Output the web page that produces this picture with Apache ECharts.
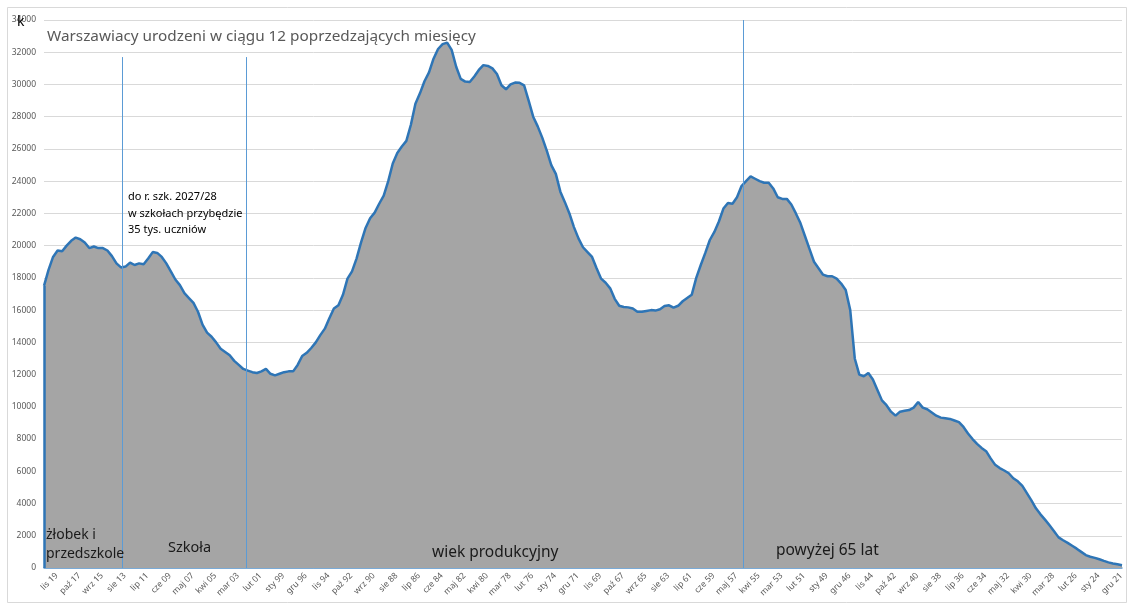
<!DOCTYPE html>
<html><head><meta charset="utf-8">
<script src="https://cdn.jsdelivr.net/npm/echarts@6/dist/echarts.min.js"></script>
<style>html,body{margin:0;padding:0;background:#fff}#c{width:1134px;height:610px}</style>
</head><body><div id="c"></div>
<script>
// Month abbreviations (Polish)
const monthNames = ['sty','lut','mar','kwi','maj','cze','lip','sie','wrz','paź','lis','gru'];
// Start: listopad 2019, step back 5 months per category
const startYear = 2019, startMonth = 10, stepMonths = 5, nCats = 239;
const categories = [];
for (let i = 0; i < nCats; i++) {
  const t = startYear * 12 + startMonth - i * stepMonths;
  const y = Math.floor(t / 12), m = t % 12;
  categories.push(monthNames[m] + ' ' + String(y % 100).padStart(2, '0'));
}
// Births in the preceding 12 months
const births = [
  17500, 18500, 19300, 19700, 19650, 20000, 20300, 20500, 20400, 20200,
  19850, 19950, 19850, 19850, 19700, 19350, 18900, 18650, 18700, 18950,
  18800, 18900, 18850, 19200, 19600, 19550, 19300, 18900, 18400, 17900,
  17550, 17050, 16750, 16450, 15900, 15100, 14600, 14350, 14000, 13600,
  13400, 13200, 12850, 12600, 12350, 12250, 12150, 12100, 12200, 12350,
  12050, 11950, 12050, 12150, 12200, 12200, 12600, 13150, 13350, 13650,
  14000, 14450, 14850, 15500, 16100, 16300, 16950, 17950, 18400, 19200,
  20200, 21100, 21700, 22050, 22600, 23100, 24000, 25100, 25750, 26150,
  26500, 27500, 28800, 29450, 30200, 30750, 31600, 32200, 32500, 32600,
  32150, 31100, 30350, 30180, 30150, 30500, 30900, 31200, 31150, 31000,
  30650, 29950, 29700, 30000, 30120, 30100, 29950, 29000, 28000, 27400,
  26700, 25900, 25000, 24450, 23350, 22700, 22000, 21150, 20450, 19900,
  19600, 19300, 18600, 17950, 17700, 17350, 16700, 16270, 16190, 16170,
  16100, 15900, 15900, 15950, 16000, 15970, 16050, 16250, 16300, 16150,
  16270, 16550, 16750, 16950, 18000, 18800, 19550, 20350, 20850, 21500,
  22300, 22650, 22600, 23000, 23700, 24000, 24300, 24150, 24000, 23900,
  23900, 23550, 23000, 22900, 22900, 22550, 22000, 21400, 20600, 19800,
  19000, 18600, 18200, 18100, 18100, 17950, 17650, 17250, 16000, 13000,
  12000, 11900, 12100, 11700, 11050, 10400, 10100, 9700, 9450, 9700,
  9750, 9800, 9950, 10300, 9950, 9850, 9650, 9450, 9330, 9290,
  9250, 9150, 9050, 8750, 8350, 8000, 7700, 7450, 7250, 6800,
  6400, 6200, 6050, 5880, 5570, 5380, 5100, 4650, 4200, 3700,
  3330, 3000, 2650, 2280, 1900, 1720, 1560, 1380, 1200, 1000,
  800, 700, 630, 540, 440, 350, 280, 230, 170
];
// Vertical divider positions (category index, fractional) and their top values
const dividers = [
  {at: 17.33, top: 31700},
  {at: 44.71, top: 31700},
  {at: 154.44, top: 34000}
];
const yMin = 0, yMax = 34000, yStep = 2000;
const FONT = 'Noto Sans';

const chart = echarts.init(document.getElementById('c'), null, {renderer: 'canvas'});
chart.setOption({
  animation: false,
  backgroundColor: '#fff',
  grid: {left: 44, right: 12, top: 20, bottom: 42, containLabel: false},
  xAxis: [{
    type: 'category', data: categories, boundaryGap: false,
    axisLine: {lineStyle: {color: '#5b9bd5', width: 1.5}},
    axisTick: {show: false},
    axisLabel: {interval: 4, rotate: 45, fontSize: 8.5, color: '#595959', fontFamily: FONT, margin: 19, padding: [0, -18, 0, 0]}
  }, {
    type: 'value', min: 0, max: nCats - 1, show: false
  }],
  yAxis: {
    type: 'value', min: yMin, max: yMax, interval: yStep,
    axisLine: {show: false}, axisTick: {show: false},
    axisLabel: {fontSize: 8.5, color: '#595959', fontFamily: FONT, margin: 8, formatter: v => String(v)},
    splitLine: {lineStyle: {color: '#d9d9d9', width: 1}}
  },
  series: [{
    type: 'line', data: births, symbol: 'none', smooth: false, clip: false,
    lineStyle: {color: '#2e75b6', width: 2.5},
    areaStyle: {color: '#a5a5a5', opacity: 1},
    markLine: {
      silent: true, symbol: 'none', label: {show: false},
      lineStyle: {color: '#2e75b6', width: 2.5, type: 'solid', opacity: 1},
      data: [[{coord: [0, 0]}, {coord: [0, births[0]]}]]
    }
  }, {
    type: 'line', xAxisIndex: 1, data: [], symbol: 'none', z: 5,
    markLine: {
      silent: true, symbol: 'none', label: {show: false},
      lineStyle: {color: '#5b9bd5', width: 1, type: 'solid', opacity: 1},
      data: dividers.map(d => [{coord: [d.at, d.top]}, {coord: [d.at, 0]}])
    }
  }],
  graphic: [
    {type: 'rect', shape: {x: 7.5, y: 7.5, width: 1119, height: 595}, style: {fill: 'none', stroke: '#d9d9d9', lineWidth: 1}, z: -1, silent: true},
    {type: 'text', left: 17, top: 15, style: {text: 'k', font: '14px "Noto Sans"', fill: '#000'}, z: 100},
    {type: 'text', left: 47, top: 29, style: {text: 'Warszawiacy urodzeni w ciągu 12 poprzedzających miesięcy', font: '15.3px "Noto Sans"', fill: '#595959'}, z: 100},
    {type: 'text', left: 128, top: 189, style: {text: 'do r. szk. 2027/28\nw szkołach przybędzie\n35 tys. uczniów', font: '11px "Noto Sans"', fill: '#000', lineHeight: 16.5}, z: 100},
    {type: 'text', left: 46, top: 526, style: {text: 'żłobek i\nprzedszkole', font: '14px "Noto Sans"', fill: '#1a1a1a', lineHeight: 19}, z: 100},
    {type: 'text', left: 168, top: 540, style: {text: 'Szkoła', font: '14.5px "Noto Sans"', fill: '#1a1a1a'}, z: 100},
    {type: 'text', left: 432, top: 545, style: {text: 'wiek produkcyjny', font: '15.5px "Noto Sans"', fill: '#1a1a1a'}, z: 100},
    {type: 'text', left: 776, top: 543, style: {text: 'powyżej 65 lat', font: '15.5px "Noto Sans"', fill: '#1a1a1a'}, z: 100}
  ]
});
</script>
</body></html>
